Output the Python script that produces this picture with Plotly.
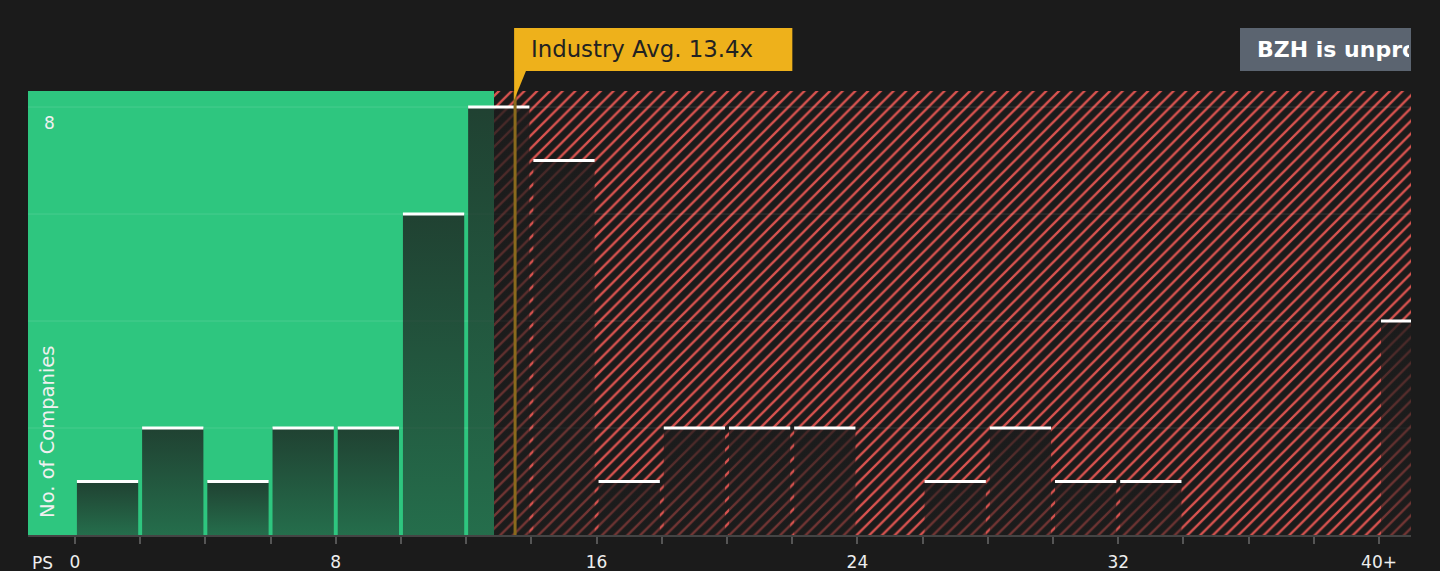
import plotly.graph_objects as go

# P/S histogram, bins of width 2, last bin is 40+
bin_left = [0, 2, 4, 6, 8, 10, 12, 14, 16, 18, 20, 22, 24, 26, 28, 30, 32, 34, 36, 38, 40]
counts = [1, 2, 1, 2, 2, 6, 8, 7, 1, 2, 2, 2, 0, 1, 2, 1, 1, 0, 0, 0, 4]
tick_vals = [0, 8, 16, 24, 32, 40]
tick_text = ['0', '8', '16', '24', '32', '40+']
grid_vals = [2, 4, 6, 8]
y_label_vals = [8]

industry_avg = 13.4
avg_line_x = 13.5      # where the avg line sits on the axis
good_edge = 12.86      # green zone ends here, hatched zone after

BG = '#1b1b1b'
GREEN = '#2ec67f'
RED = '#d9534f'
x_min, x_max = -1.44, 40.98
y_max = 8.3
bin_w = 2
gap = 0.06

fig = go.Figure()

# background zones
fig.add_trace(go.Bar(x=[(x_min + good_edge) / 2], y=[y_max], width=[good_edge - x_min],
                     marker=dict(color=GREEN, line=dict(width=0)), hoverinfo='skip'))
fig.add_trace(go.Bar(x=[(good_edge + x_max) / 2], y=[y_max], width=[x_max - good_edge],
                     marker=dict(color=BG, line=dict(width=0),
                                 pattern=dict(shape='/', fgcolor=RED, bgcolor=BG, fgopacity=1,
                                              size=9, solidity=0.26)),
                     hoverinfo='skip'))

# grid lines above the zones
gx, gy = [], []
for g in grid_vals:
    gx += [x_min, x_max, None]
    gy += [g, g, None]
fig.add_trace(go.Scatter(x=gx, y=gy, mode='lines', line=dict(color='rgba(255,255,255,0.12)', width=1),
                         hoverinfo='skip'))

# bars with vertical gradient
for l, c in zip(bin_left, counts):
    if c == 0:
        continue
    x0, x1 = l + gap, l + bin_w - gap
    fig.add_trace(go.Scatter(
        x=[x0, x0, x1, x1, x0], y=[0, c, c, 0, 0], mode='lines', fill='toself',
        line=dict(width=0),
        fillgradient=dict(type='vertical', start=0, stop=c,
                          colorscale=[[0, 'rgba(28,28,28,0.52)'], [1, 'rgba(28,28,28,0.78)']]),
        hoverinfo='skip'))

# white caps
cx, cy = [], []
for l, c in zip(bin_left, counts):
    if c == 0:
        continue
    cx += [l + gap, l + bin_w - gap, None]
    cy += [c, c, None]
fig.add_trace(go.Scatter(x=cx, y=cy, mode='lines', line=dict(color='white', width=3),
                         hoverinfo='skip'))

# industry average line
fig.add_trace(go.Scatter(x=[avg_line_x, avg_line_x], y=[0, y_max], mode='lines',
                         line=dict(color='#8a6a1c', width=3), hoverinfo='skip'))

shapes = [
    dict(type='rect', xref='x', yref='paper', x0=avg_line_x - 0.03, x1=avg_line_x - 0.03 + 278 / 32.575,
         y0=1.045, y1=1.142, fillcolor='#eeb11b', line=dict(width=0), layer='above'),
    dict(type='path', xref='x', yref='paper',
         path=f'M {avg_line_x - 0.03},1.046 L {avg_line_x + 0.34},1.046 L {avg_line_x - 0.03},0.98 Z',
         fillcolor='#eeb11b', line=dict(width=0), layer='above'),
    dict(type='rect', xref='paper', yref='paper', x0=(1240 - 28) / 1383, x1=1.0,
         y0=1.045, y1=1.142, fillcolor='#5b6470', line=dict(width=0), layer='above'),
]

annotations = [
    dict(text=f'Industry Avg. {industry_avg}x', xref='x', yref='paper',
         x=avg_line_x - 0.03 + 15 / 32.575, y=1.0935, xanchor='left', yanchor='middle',
         showarrow=False, font=dict(size=22.8, color='#222222', family='DejaVu Sans')),
    dict(text='<b>BZH is unprofitable</b>', xref='paper', yref='paper',
         x=(1256 - 28) / 1383, y=1.0935, xanchor='left', yanchor='middle', width=152, align='left',
         borderpad=0, showarrow=False, font=dict(size=22, color='white', family='DejaVu Sans')),
    dict(text='PS', xref='paper', yref='paper', x=(42 - 28) / 1383, y=-0.062,
         xanchor='center', yanchor='middle', showarrow=False,
         font=dict(size=17, color='#eeeeee', family='DejaVu Sans')),
    dict(text='No. of Companies', xref='paper', yref='paper', x=(48 - 28) / 1383, y=0.034,
         xanchor='center', yanchor='bottom', textangle=-90, showarrow=False,
         font=dict(size=19.5, color='#f0f0f0', family='DejaVu Sans')),
]
for v in y_label_vals:
    annotations.append(dict(text=str(v), xref='paper', yref='y', x=(49 - 28) / 1383, y=v,
                            xanchor='center', yanchor='top', yshift=-4, showarrow=False,
                            font=dict(size=17, color='#f0f0f0', family='DejaVu Sans')))

minor_ticks = list(range(0, 41, 2))
fig.update_layout(
    width=1440, height=571,
    margin=dict(l=28, r=29, t=91, b=36),
    paper_bgcolor=BG, plot_bgcolor=BG,
    showlegend=False, barmode='overlay', bargap=0,
    shapes=shapes, annotations=annotations,
    xaxis=dict(range=[x_min, x_max], showgrid=False, zeroline=False, automargin=False,
               tickvals=minor_ticks,
               ticktext=[tick_text[tick_vals.index(t)] if t in tick_vals else '' for t in minor_ticks],
               ticks='outside', ticklen=7, tickwidth=1.5, tickcolor='#555555',
               showline=True, linecolor='#444444', linewidth=2, ticklabelstandoff=4,
               tickfont=dict(size=17, color='#eeeeee', family='DejaVu Sans')),
    yaxis=dict(range=[0, y_max], showgrid=False, zeroline=False, showticklabels=False,
               showline=False, automargin=False),
)

fig.write_html('out.html', config={'displayModeBar': False},
               post_script="document.body.style.margin='0';document.body.style.background='#1b1b1b';")
